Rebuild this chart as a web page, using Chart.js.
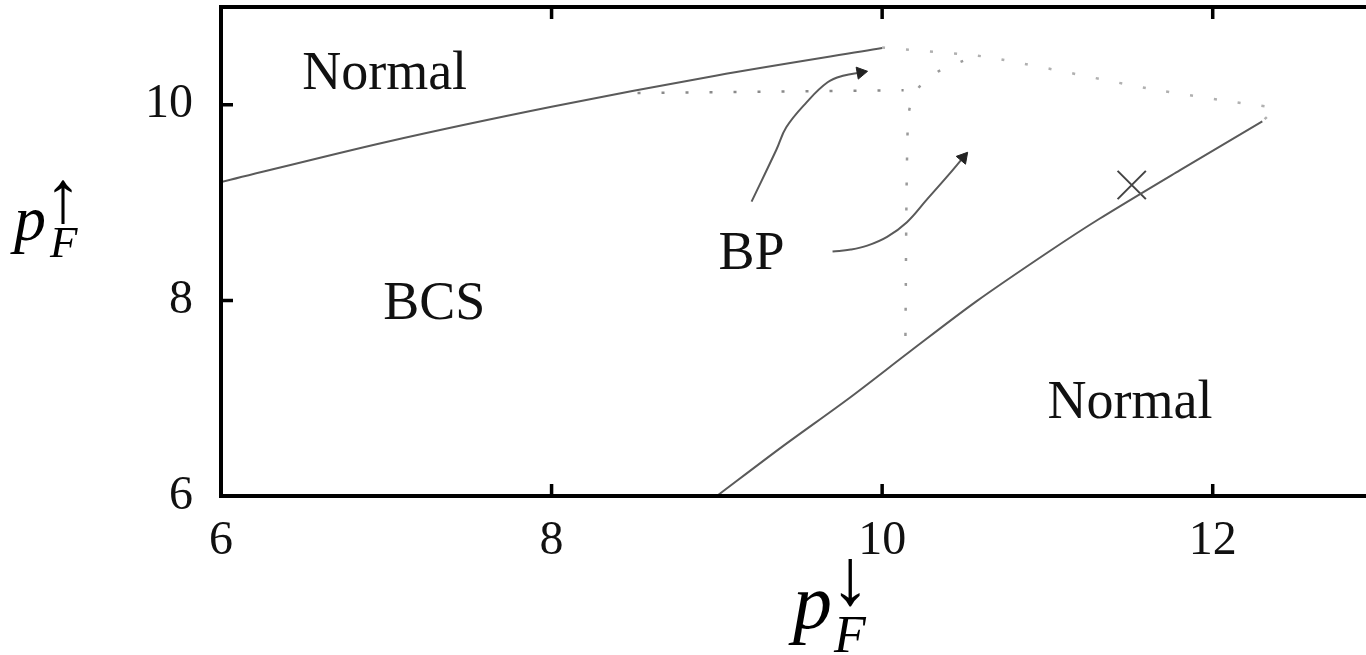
<!DOCTYPE html>
<html>
<head>
<meta charset="utf-8">
<title>BCS / BP phase diagram</title>
<script src="https://cdn.jsdelivr.net/npm/chart.js@4.4.0/dist/chart.umd.min.js"></script>
<style>
  html, body { margin: 0; padding: 0; background: #fff; overflow: hidden; }
  #wrap { width: 1400px; height: 655px; }
</style>
</head>
<body>
<div id="wrap"><canvas id="phase" width="1400" height="655"></canvas></div>
<script>
// tick values on both axes
const xTicks = [6, 8, 10, 12];
const yTicks = [6, 8, 10];

// solid phase boundaries [p_down, p_up]
const upperBoundary = [[6, 9.21], [7, 9.62], [8, 9.98], [9, 10.3], [10.0, 10.58]];
const lowerBoundary = [[9.0, 6.0], [9.4, 6.51], [9.8, 7.0], [10.17, 7.48], [10.57, 7.99], [11.01, 8.5], [11.31, 8.83], [11.8, 9.33], [12.3, 9.83]];

// dotted lines
const dottedTop = [[10.0, 10.585], [10.63, 10.49], [11.63, 10.16], [12.2, 10.01], [12.37, 9.96], [12.3, 9.83]];
const dottedFlat = [[8.52, 10.12], [10.13, 10.15]];
const dottedBend = [[10.49, 10.45], [10.36, 10.36], [10.25, 10.235], [10.18, 10.05], [10.155, 9.8], [10.14, 7.47]];

// arrows from the BP label
const arrowUpper = [[9.21, 9.01], [9.36, 9.54], [9.42, 9.77], [9.54, 10.02], [9.67, 10.23], [9.77, 10.30], [9.87, 10.33]];
const arrowLower = [[9.70, 8.50], [9.81, 8.52], [9.91, 8.56], [10.03, 8.65], [10.15, 8.80], [10.27, 9.03], [10.39, 9.26], [10.49, 9.46]];

// crossing point on the lower boundary
const crossPoint = [[11.51, 9.18]];

// region names
const regionNames = ['Normal', 'BCS', 'BP', 'Normal'];
const regionX = [6.99, 7.29, 9.21, 11.5];
const regionY = [10.35, 7.99, 8.51, 6.98];

const SERIF = '"Liberation Serif", "DejaVu Serif", serif';
const toXY = pts => pts.map(p => ({ x: p[0], y: p[1] }));

function lineSet(pts, color, width, dash, tension) {
  return {
    data: toXY(pts),
    showLine: true,
    borderColor: color,
    borderWidth: width,
    borderDash: dash || [],
    pointRadius: 0,
    tension: tension || 0,
    fill: false
  };
}

// arrow line with a triangle head on its last point
function arrowSet(pts) {
  const ds = lineSet(pts, '#5a5a5a', 2, null, 0.4);
  const last = pts.length - 1;
  ds.pointRadius = c => (c.dataIndex === last ? 7 : 0);
  ds.pointStyle = 'triangle';
  ds.pointBackgroundColor = '#222';
  ds.pointBorderColor = '#222';
  ds.pointBorderWidth = 1;
  ds.pointRotation = c => {
    const { x, y } = c.chart.scales;
    const a = pts[last - 1], b = pts[last];
    const dx = x.getPixelForValue(b[0]) - x.getPixelForValue(a[0]);
    const dy = y.getPixelForValue(b[1]) - y.getPixelForValue(a[1]);
    return Math.atan2(dx, -dy) * 180 / Math.PI;
  };
  return ds;
}

// keep the plot box fixed: no extra room for edge labels
function fixedBox(size, key) {
  return s => {
    s[key] = size;
    s.paddingTop = 0;
    s.paddingBottom = 0;
    s.paddingLeft = 0;
    s.paddingRight = 0;
  };
}

const framePlugin = {
  id: 'frame',
  afterDraw(chart) {
    const { ctx, chartArea: a, scales: { x, y } } = chart;
    ctx.save();

    // region names
    ctx.fillStyle = '#111';
    ctx.font = '54px ' + SERIF;
    ctx.textAlign = 'center';
    ctx.textBaseline = 'alphabetic';
    regionNames.forEach((t, i) => {
      ctx.fillText(t, x.getPixelForValue(regionX[i]), y.getPixelForValue(regionY[i]) + 18);
    });

    // box and inward ticks
    ctx.strokeStyle = '#000';
    ctx.lineWidth = 4;
    ctx.strokeRect(a.left, a.top, a.right - a.left, a.bottom - a.top);
    ctx.lineWidth = 3.5;
    ctx.beginPath();
    xTicks.forEach(v => {
      const px = x.getPixelForValue(v);
      ctx.moveTo(px, a.bottom); ctx.lineTo(px, a.bottom - 12);
      ctx.moveTo(px, a.top); ctx.lineTo(px, a.top + 12);
    });
    yTicks.forEach(v => {
      const py = y.getPixelForValue(v);
      ctx.moveTo(a.left, py); ctx.lineTo(a.left + 12, py);
      ctx.moveTo(a.right, py); ctx.lineTo(a.right - 12, py);
    });
    ctx.stroke();

    // axis titles: p_F with spin arrow
    ctx.fillStyle = '#000';
    ctx.textAlign = 'left';
    ctx.font = 'italic 64px ' + SERIF;
    ctx.fillText('p', 14, 240);
    ctx.font = 'italic 45px ' + SERIF;
    ctx.fillText('F', 50, 257);
    ctx.font = '74px ' + SERIF;
    ctx.textAlign = 'center';
    ctx.fillText('\u2191', 63, 222);

    ctx.textAlign = 'left';
    ctx.font = 'italic 78px ' + SERIF;
    ctx.fillText('p', 793, 628);
    ctx.font = 'italic 52px ' + SERIF;
    ctx.fillText('F', 834, 652);
    ctx.font = '80px ' + SERIF;
    ctx.textAlign = 'center';
    ctx.fillText('\u2193', 850, 604);
    ctx.restore();
  }
};

new Chart(document.getElementById('phase'), {
  type: 'scatter',
  data: {
    datasets: [
      lineSet(upperBoundary, '#5a5a5a', 2, null, 0.3),
      lineSet(lowerBoundary, '#5a5a5a', 2, null, 0.3),
      lineSet(dottedTop, '#b0b0b0', 2.5, [3, 21], 0.2),
      lineSet(dottedFlat, '#8a8a8a', 2.5, [3, 21], 0),
      lineSet(dottedBend, '#9a9a9a', 2.5, [3, 22], 0.3),
      arrowSet(arrowUpper),
      arrowSet(arrowLower),
      {
        data: toXY(crossPoint),
        pointStyle: 'crossRot',
        pointRadius: 20,
        pointBorderWidth: 2,
        pointBorderColor: '#444',
        showLine: false
      }
    ]
  },
  options: {
    responsive: false,
    animation: false,
    devicePixelRatio: 1,
    layout: { autoPadding: false, padding: { top: 7, right: 22, left: 0, bottom: 0 } },
    plugins: { legend: { display: false }, tooltip: { enabled: false } },
    scales: {
      x: {
        type: 'linear',
        min: 6,
        max: 13,
        afterBuildTicks: s => { s.ticks = xTicks.map(v => ({ value: v })); },
        afterFit: fixedBox(159, 'height'),
        grid: { display: false, drawTicks: false },
        border: { display: false },
        ticks: { font: { family: SERIF, size: 48 }, color: '#111', padding: 17, maxRotation: 0, autoSkip: false }
      },
      y: {
        type: 'linear',
        min: 6,
        max: 11,
        afterBuildTicks: s => { s.ticks = yTicks.map(v => ({ value: v })); },
        afterFit: fixedBox(221, 'width'),
        grid: { display: false, drawTicks: false },
        border: { display: false },
        ticks: { font: { family: SERIF, size: 48 }, color: '#111', padding: 28, autoSkip: false }
      }
    }
  },
  plugins: [framePlugin]
});
</script>
</body>
</html>
